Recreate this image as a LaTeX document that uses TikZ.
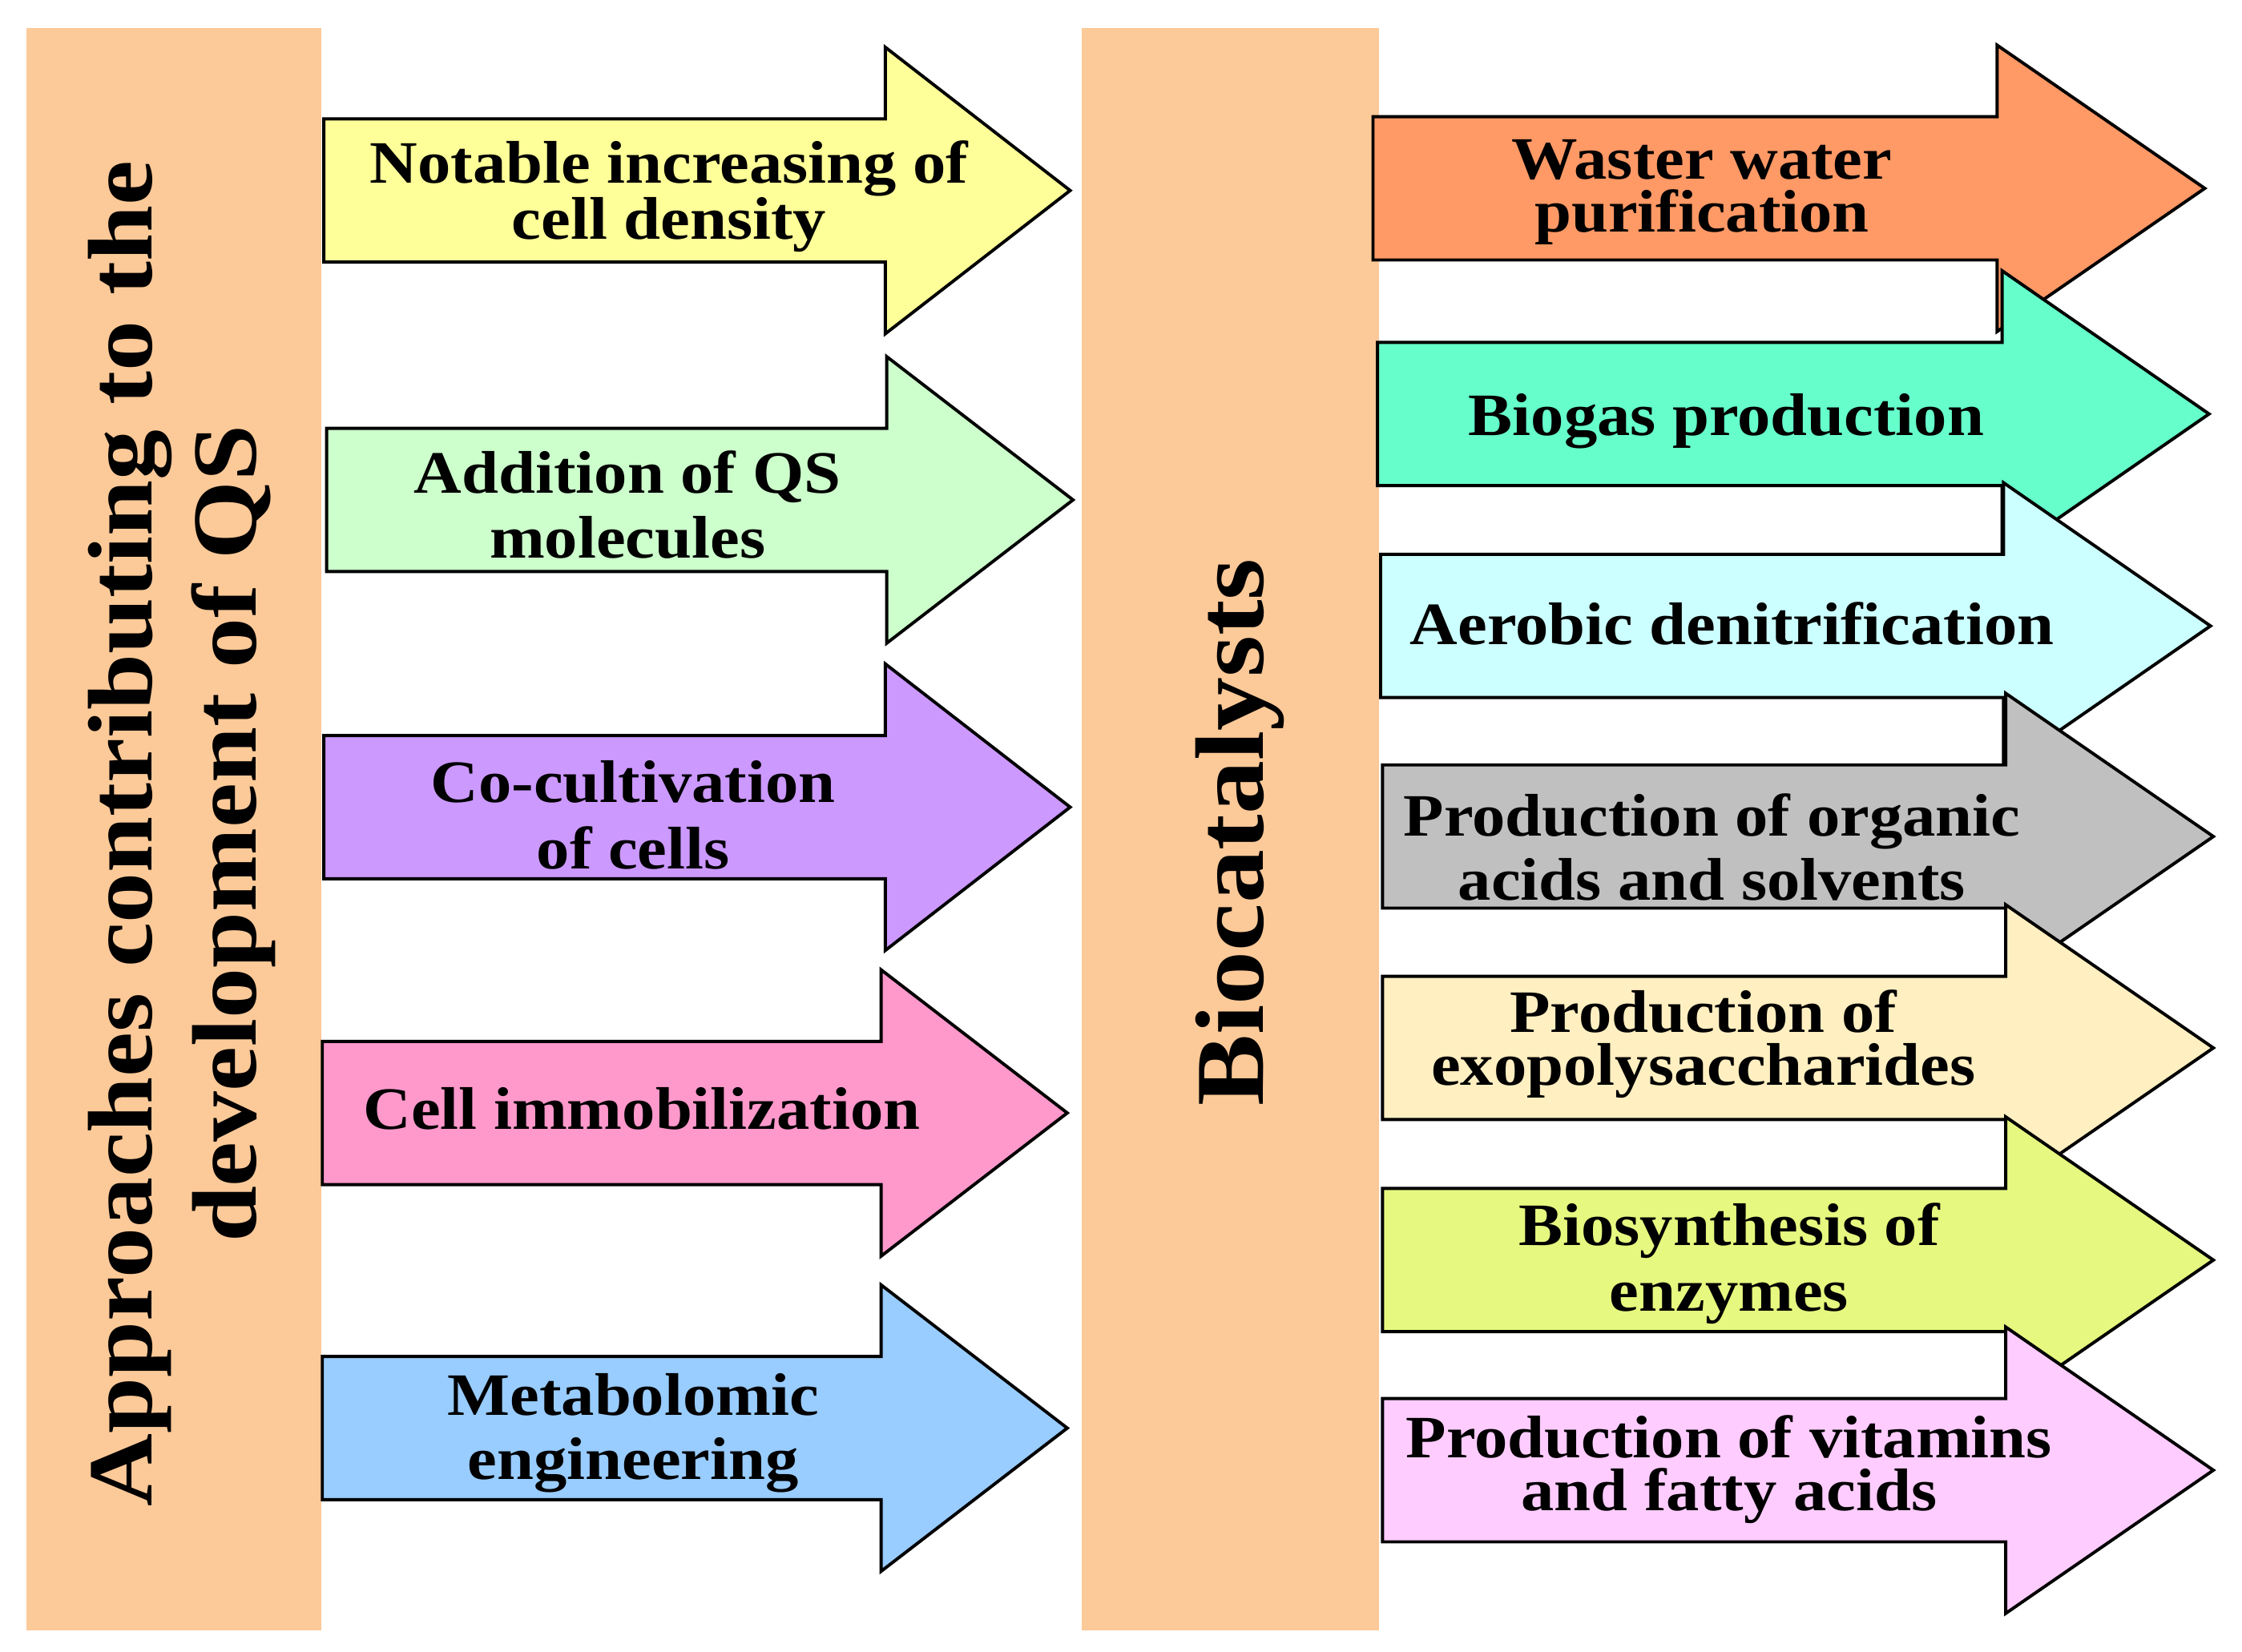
\documentclass[tikz,border=0pt]{standalone}
\usepackage{fontspec}
\setmainfont[FakeStretch=1.1]{Liberation Serif}

\definecolor{bandcol}{HTML}{FCC998}
\definecolor{lyellow}{HTML}{FFFF99}
\definecolor{lgreen}{HTML}{CCFFCC}
\definecolor{lviolet}{HTML}{CC99FF}
\definecolor{lpink}{HTML}{FF99CC}
\definecolor{lblue}{HTML}{99CCFF}
\definecolor{rorange}{HTML}{FF9966}
\definecolor{rmint}{HTML}{66FFCC}
\definecolor{rcyan}{HTML}{CCFFFF}
\definecolor{rgrey}{HTML}{C0C0C0}
\definecolor{rcream}{HTML}{FFEFC1}
\definecolor{rlime}{HTML}{E6F87F}
\definecolor{rmagenta}{HTML}{FFCCFF}

\begin{document}
\begin{tikzpicture}[x=1pt, y=-1pt,
    band/.style={fill=bandcol, draw=none, inner sep=0pt, anchor=north west},
    arrowbox/.style={draw=black, line width=2.2pt, line join=miter},
    lbl/.style={align=center, inner sep=0pt, font=\bfseries\fontsize{42}{#1}\selectfont},
    lbl/.default=37,
    bigtxt/.style={rotate=90, align=center, inner sep=0pt, font=\bfseries\fontsize{64}{73}\selectfont}]
    \useasboundingbox (0,0) rectangle (1565,1153.3);

    % the two background bands
    \node[band, minimum width=206, minimum height=1118.6] (leftband) at (18,19.4) {};
    \node[band, minimum width=207.5, minimum height=1118.6] (midband) at (755,19.4) {};
    \node[bigtxt] (approach) at (127,582) {Approaches contributing to the\\development of QS};
    \node[bigtxt, anchor=base, font=\bfseries\fontsize{68}{72}\selectfont] (biocat) at (882,581) {Biocatalysts};

    % left arrows
    \foreach \xa/\xb/\xc/\ym/\col in {226/618/747/133/lyellow, 228/619/749/349/lgreen,
        226/618/747/563.5/lviolet, 225/615/745/777/lpink, 225/615/745/997/lblue}
        \draw[arrowbox, fill=\col] (\xa,\ym-50) -- (\xb,\ym-50) -- (\xb,\ym-100) -- (\xc,\ym)
            -- (\xb,\ym+100) -- (\xb,\ym+50) -- (\xa,\ym+50) -- cycle;

    \node[lbl=36] (cell) at (467,137) {Notable increasing of\\cell density};
    \node[lbl=45] (addqs) at (438,352.5) {Addition of QS\\molecules};
    \node[lbl=46] (cocult) at (442,569) {Co-cultivation\\of cells};
    \node[lbl, anchor=base] (immob) at (448,788.6) {Cell immobilization};
    \node[lbl=45] (metab) at (442,1000.5) {Metabolomic\\engineering};

    % right arrows, each one drawn over the head of the one above
    \foreach \xa/\xb/\xc/\ym/\col in {958.4/1394/1539/131.5/rorange, 961.5/1397.5/1542/289/rmint,
        963.7/1398.5/1543/437/rcyan, 965/1400/1545/584/rgrey, 965/1400/1545/731.6/rcream,
        965/1400/1545/879.7/rlime, 965/1400/1545/1026.4/rmagenta}
        \draw[arrowbox, fill=\col] (\xa,\ym-50) -- (\xb,\ym-50) -- (\xb,\ym-100) -- (\xc,\ym)
            -- (\xb,\ym+100) -- (\xb,\ym+50) -- (\xa,\ym+50) -- cycle;

    \node[lbl] (waste) at (1188,134) {Waster water\\purification};
    \node[lbl, anchor=base] (biogas) at (1205,304) {Biogas production};
    \node[lbl, anchor=base] (denit) at (1209,450) {Aerobic denitrification};
    \node[lbl=45] (acids) at (1195,591.5) {Production of organic\\acids and solvents};
    \node[lbl] (exopoly) at (1189,729) {Production of\\exopolysaccharides};
    \node[lbl=46] (enzym) at (1207,882) {Biosynthesis of\\enzymes};
    \node[lbl] (vitam) at (1207,1026) {Production of vitamins\\and fatty acids};
\end{tikzpicture}
\end{document}
